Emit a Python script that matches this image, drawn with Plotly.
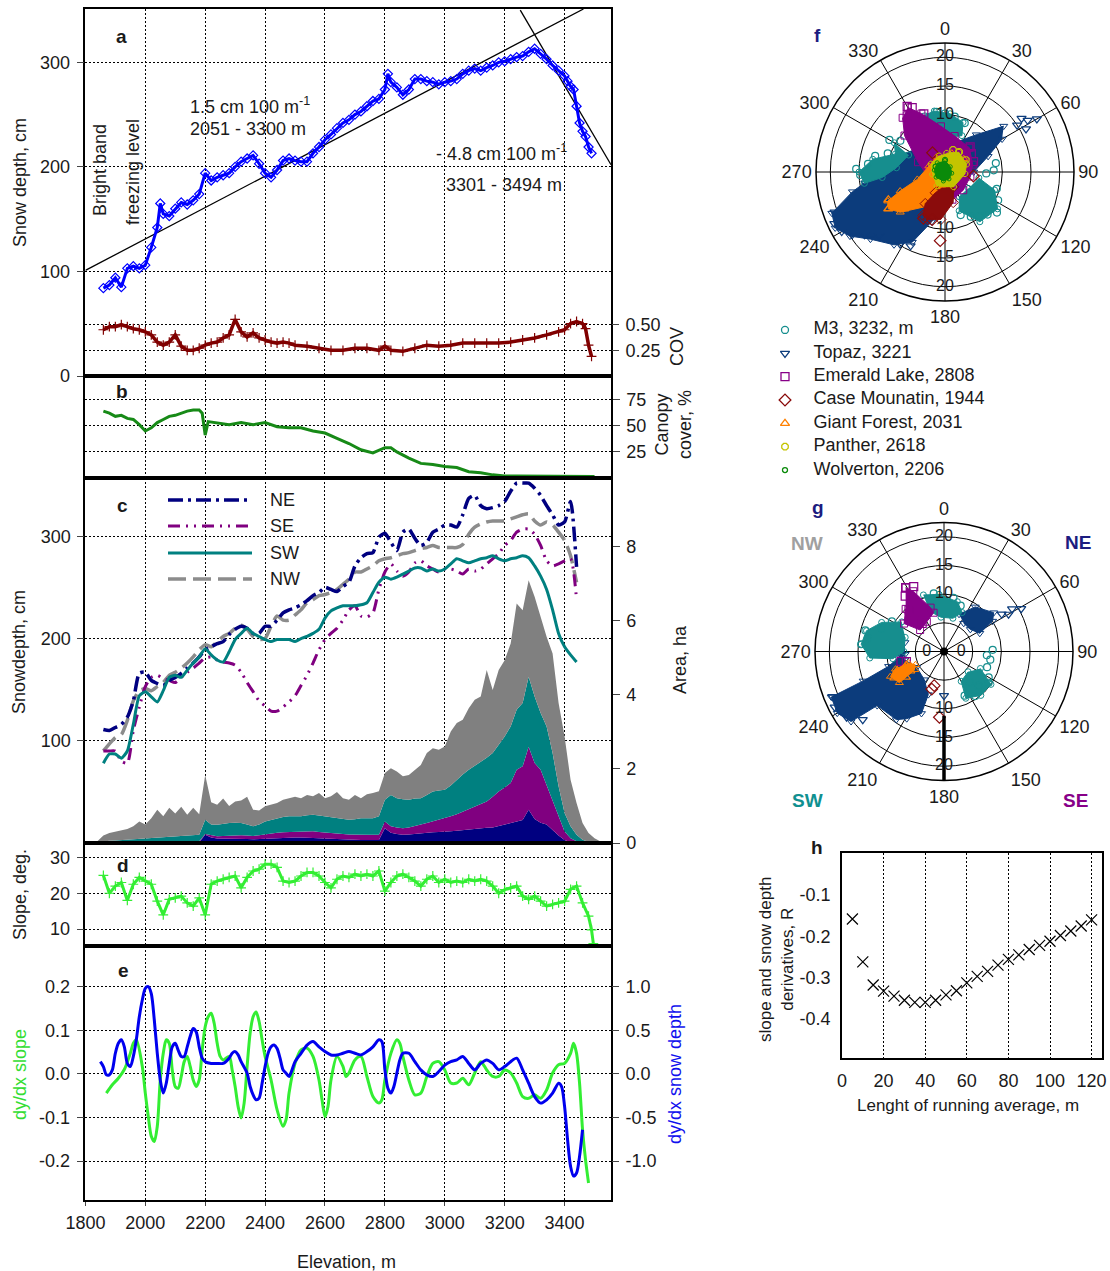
import plotly.graph_objects as go

W, H = 1110, 1271
FONT = "Liberation Sans, Arial, sans-serif"
INK = "#1a1a1a"


def px(x):
    return x / W


def py(y):
    return 1 - y / H


# ---------------- a: snow depth (cm) and its COV along the transect ----------------
snow_elev = [1860, 1880, 1900, 1920, 1940, 1960, 1980, 2000, 2020, 2040,
             2050,
             2060, 2080, 2100, 2120, 2140, 2160, 2180, 2200, 2220, 2240,
             2260, 2280, 2300, 2320, 2340, 2360, 2380, 2400, 2420, 2440,
             2460, 2480, 2500, 2520, 2540, 2560, 2580, 2600, 2620, 2640,
             2660, 2680, 2700, 2720, 2740, 2760, 2780, 2800,
             2810,
             2820, 2840, 2860, 2880, 2900, 2920, 2940, 2960, 2980, 3000,
             3020, 3040, 3060, 3080, 3100, 3120, 3140, 3160, 3180, 3200,
             3220, 3240, 3260, 3280, 3300, 3320, 3340, 3360, 3380, 3400,
             3410, 3420, 3430, 3440, 3450, 3460, 3470, 3480, 3490]
snow_depth = [84, 87, 94, 85, 103, 105, 103, 106, 123, 142,
              165,
              155, 153, 160, 166, 164, 168, 174, 194, 187, 190,
              192, 194, 200, 205, 208, 211, 203, 194, 190, 197,
              206, 208, 206, 205, 205, 213, 219, 226, 231, 237,
              242, 245, 250, 253, 258, 263, 265, 274,
              289,
              281, 276, 269, 274, 284, 284, 282, 281, 279, 281,
              282, 284, 289, 292, 294, 292, 295, 297, 300, 301,
              303, 305, 306, 310, 313, 308, 303, 297, 292, 287,
              282, 277, 274, 258, 242, 234, 229, 219, 213]

cov_elev = [1860, 1880, 1900, 1920, 1940, 1960, 1980, 2000, 2020, 2040,
            2060, 2080, 2100, 2120, 2140, 2160, 2180, 2200, 2220, 2240,
            2260, 2280, 2300, 2320, 2340, 2360, 2380, 2400, 2420, 2440,
            2460, 2480, 2500,
            2540, 2580, 2620, 2660, 2700, 2740, 2780,
            2800, 2820,
            2860, 2900, 2940, 2980, 3020, 3060, 3100, 3140, 3180, 3220,
            3260, 3300, 3340, 3380,
            3400, 3420, 3440, 3460, 3470, 3480, 3490]
cov_value = [0.45, 0.48, 0.48, 0.50, 0.48, 0.46, 0.45, 0.43, 0.40, 0.33,
             0.30, 0.33, 0.40, 0.29, 0.25, 0.25, 0.27, 0.30, 0.32, 0.33,
             0.37, 0.40, 0.55, 0.43, 0.38, 0.42, 0.37, 0.35, 0.33, 0.32,
             0.33, 0.32, 0.30,
             0.29, 0.27, 0.25, 0.25, 0.27, 0.27, 0.25,
             0.29, 0.25,
             0.24, 0.27, 0.30, 0.29, 0.30, 0.32, 0.32, 0.32, 0.32, 0.33,
             0.35, 0.37, 0.40, 0.43,
             0.45, 0.51, 0.53, 0.51, 0.46, 0.30, 0.19]

# fitted gradients (end points of each regression line)
fit_low_elev = [1800, 3463]
fit_low_depth = [101, 351]
fit_high_elev = [3252, 3555]
fit_high_depth = [350, 202]

# ---------------- b: canopy cover (%) ----------------
canopy_elev = [1860, 1880, 1900, 1920, 1940, 1960, 1980, 2000, 2020, 2040,
               2060, 2080, 2100, 2120, 2140, 2160, 2180,
               2190, 2200, 2210,
               2240, 2280, 2320, 2360, 2400, 2440, 2480, 2520, 2560, 2600,
               2640, 2680, 2720, 2760, 2800,
               2820, 2840,
               2880, 2920, 2960, 3000, 3040, 3080, 3120, 3160, 3200, 3240,
               3280, 3320, 3360, 3400, 3440, 3480,
               3500]
canopy_cover = [64, 62, 59, 60, 57, 56, 51, 45, 48, 53,
                56, 59, 60, 62, 64, 65, 65,
                62, 41, 54,
                53, 51, 53, 51, 53, 49, 48, 48, 45, 43,
                38, 33, 27, 24, 29,
                29, 25,
                19, 14, 13, 11, 10, 6, 5, 3, 2, 2,
                2, 2, 2, 2, 2, 1.5,
                1.5]

# ---------------- c: snow depth by aspect (cm) ----------------
aspect_elev = list(range(1860, 3460, 20))
depth_ne = [111, 110, 113, 116, 123, 139, 166, 167, 159, 156,
            154, 159, 162, 166, 171, 176, 182, 189, 192, 195,
            197, 204, 209, 212, 210, 205, 205, 212, 212, 218,
            225, 228, 230, 233, 237, 242, 245, 250, 248, 246,
            251, 255, 271, 279, 283, 284, 299, 303, 294, 286,
            304, 307, 298, 291, 294, 304, 307, 311, 311, 309,
            321, 337, 340, 330, 327, 328, 330, 334, 344, 352,
            352, 352, 347, 340, 330, 321, 311, 314, 334, 270]
depth_se = [90, 90, 90, 80, 78, 110, 133, 153, 162, 164,
            161, 159, 157, 162, 167, 171, 176, 181, 182, 179,
            177, 176, 174, 167, 157, 148, 139, 134, 129, 129,
            133, 138, 144, 154, 164, 176, 189, 199, 205, 210,
            218, 228, 232, 222, 221, 225, 248, 265, 273, 266,
            261, 265, 274, 276, 271, 268, 265, 268, 268, 266,
            263, 268, 266, 268, 273, 278, 283, 291, 296, 304,
            307, 307, 302, 291, 276, 271, 273, 276, 278, 238]
depth_sw = [78, 87, 87, 83, 90, 116, 144, 148, 143, 138,
            149, 162, 164, 162, 169, 176, 182, 190, 184, 179,
            177, 187, 199, 205, 210, 205, 202, 199, 197, 199,
            199, 199, 197, 200, 202, 205, 209, 220, 227, 230,
            232, 232, 232, 233, 235, 245, 255, 260, 258, 260,
            263, 266, 269, 269, 266, 268, 266, 268, 273, 278,
            276, 274, 276, 278, 279, 281, 278, 276, 278, 279,
            281, 279, 271, 261, 248, 228, 205, 192, 184, 177]
depth_nw = [90, 97, 103, 106, 120, 139, 149, 151, 149, 153,
            157, 164, 167, 171, 176, 182, 189, 194, 192, 197,
            202, 205, 210, 213, 209, 202, 199, 200, 212, 222,
            218, 218, 223, 228, 235, 238, 242, 243, 245, 248,
            253, 258, 265, 265, 268, 271, 276, 278, 279, 281,
            283, 284, 286, 288, 289, 291, 289, 289, 289, 289,
            292, 302, 309, 312, 314, 315, 315, 315, 317, 319,
            321, 322, 315, 311, 314, 311, 304, 296, 281, 255]

# area (ha) of each aspect class per elevation band
area_elev = list(range(1840, 3540, 20))
area_ne = [0, 0.01, 0.01, 0.01, 0.01, 0.01, 0.01, 0.01, 0.01, 0.01,
           0.01, 0.01, 0.01, 0.01, 0.02, 0.02, 0.02, 0.02, 0.22, 0.15,
           0.12, 0.12, 0.13, 0.12, 0.12, 0.11, 0.10, 0.11, 0.12, 0.13,
           0.14, 0.14, 0.15, 0.15, 0.15, 0.15, 0.14, 0.13, 0.12, 0.11,
           0.10, 0.09, 0.08, 0.08, 0.08, 0.08, 0.08, 0.08, 0.40, 0.28,
           0.24, 0.22, 0.23, 0.25, 0.26, 0.28, 0.29, 0.30, 0.32, 0.32,
           0.33, 0.35, 0.36, 0.38, 0.40, 0.41, 0.42, 0.46, 0.50, 0.55,
           0.58, 0.62, 0.90, 0.65, 0.55, 0.50, 0.35, 0.20, 0.08, 0.02,
           0, 0, 0, 0, 0]
area_se = [0.01, 0.01, 0.01, 0.01, 0.02, 0.02, 0.02, 0.02, 0.03, 0.03,
           0.03, 0.03, 0.03, 0.03, 0.03, 0.03, 0.03, 0.03, 0.02, 0.05,
           0.06, 0.07, 0.07, 0.08, 0.09, 0.09, 0.09, 0.10, 0.12, 0.13,
           0.14, 0.15, 0.15, 0.15, 0.16, 0.17, 0.18, 0.17, 0.16, 0.16,
           0.15, 0.15, 0.15, 0.14, 0.14, 0.14, 0.14, 0.14, 0.18, 0.17,
           0.18, 0.18, 0.19, 0.20, 0.24, 0.26, 0.29, 0.32, 0.34, 0.40,
           0.45, 0.50, 0.56, 0.61, 0.65, 0.71, 0.83, 0.93, 1.00, 1.07,
           1.40, 1.45, 1.70, 1.51, 1.43, 1.07, 0.82, 0.52, 0.23, 0.11,
           0.05, 0.02, 0, 0, 0]
area_sw = [0.01, 0.03, 0.04, 0.05, 0.05, 0.07, 0.08, 0.09, 0.09, 0.10,
           0.11, 0.12, 0.13, 0.14, 0.15, 0.16, 0.17, 0.17, 0.39, 0.30,
           0.31, 0.33, 0.34, 0.35, 0.33, 0.30, 0.26, 0.29, 0.34, 0.36,
           0.39, 0.41, 0.42, 0.42, 0.41, 0.43, 0.44, 0.44, 0.44, 0.43,
           0.42, 0.41, 0.40, 0.42, 0.45, 0.45, 0.45, 0.50, 0.59, 0.85,
           0.79, 0.78, 0.75, 0.75, 0.71, 0.76, 0.81, 0.80, 0.78, 0.83,
           0.93, 1.00, 1.06, 1.09, 1.15, 1.18, 1.18, 1.26, 1.38, 1.53,
           1.62, 1.71, 1.89, 1.80, 1.53, 1.58, 1.26, 0.81, 0.50, 0.32,
           0.17, 0.07, 0.03, 0, 0]
area_nw = [0.03, 0.15, 0.21, 0.24, 0.28, 0.28, 0.34, 0.46, 0.37, 0.53,
           0.75, 0.56, 0.78, 0.62, 0.78, 0.55, 0.73, 0.56, 1.21, 0.60,
           0.54, 0.68, 0.46, 0.57, 0.61, 0.75, 0.45, 0.38, 0.41, 0.41,
           0.41, 0.47, 0.48, 0.53, 0.49, 0.55, 0.50, 0.61, 0.49, 0.56,
           0.71, 0.56, 0.54, 0.66, 0.54, 0.65, 0.68, 0.68, 0.72, 0.72,
           0.72, 0.62, 0.67, 0.78, 0.90, 1.13, 1.17, 1.10, 1.17, 1.46,
           1.53, 1.48, 1.66, 1.79, 1.76, 2.37, 1.70, 2.02, 2.06, 2.24,
           2.87, 2.51, 2.61, 2.69, 2.60, 2.42, 2.69, 2.25, 2.07, 1.26,
           0.86, 0.45, 0.24, 0.13, 0.04]

# ---------------- d: terrain slope (deg) ----------------
slope_elev = list(range(1860, 3500, 20)) + [3490, 3496]
slope_deg = [25, 20, 22, 23, 18, 22.5, 24.4, 23.4, 22.5, 17.8,
             14, 18.3, 18.7, 19.2, 17.3, 16.4, 18.7, 14, 22.5, 23.4,
             23.9, 24.4, 24.8, 21.5, 24.4, 26.2, 26.7, 28.1, 28.1, 27.2,
             23.4, 23, 23.4, 24.8, 25.8, 25.8, 24.8, 23, 21.5, 23.9,
             24.8, 24.4, 25.3, 24.8, 25.3, 24.8, 26.2, 20.6, 23, 24.8,
             25.3, 24.4, 23.4, 22, 23.9, 24.8, 23, 23.9, 23, 23.4,
             23, 23.9, 23.4, 23.9, 23.4, 22, 20, 21, 21.5, 22,
             19.2, 18.3, 19.2, 17.8, 16.4, 16.9, 17.3, 17.8, 21.1, 22,
             17.3, 13.6,
             9.8, 6]

# ---------------- e: derivatives of smoothed slope and snow depth ----------------
dslope_pts = [(1870, -0.044), (1890, -0.025), (1910, -0.01), (1930, 0.01), (1950, 0.047),
              (1960, 0.07), (1970, 0.078), (1990, 0.017), (2000, -0.044), (2010, -0.098),
              (2020, -0.143), (2030, -0.155), (2040, -0.12), (2050, -0.014), (2060, 0.047),
              (2070, 0.078), (2080, 0.07), (2090, 0.009), (2100, -0.029), (2110, -0.033),
              (2120, -0.006), (2130, 0.028), (2140, 0.04), (2150, 0.017), (2160, -0.014),
              (2170, -0.029), (2180, -0.014), (2190, 0.055), (2200, 0.108), (2210, 0.131),
              (2220, 0.139), (2230, 0.116), (2240, 0.07), (2250, 0.04), (2260, 0.032),
              (2280, 0.04), (2290, 0.009), (2300, -0.029), (2310, -0.075), (2320, -0.101),
              (2330, -0.067), (2340, 0.017), (2350, 0.093), (2360, 0.131), (2370, 0.142),
              (2380, 0.12), (2390, 0.078), (2400, 0.04), (2420, -0.014), (2440, -0.082),
              (2460, -0.12), (2470, -0.105), (2480, -0.044), (2500, 0.024), (2520, 0.055),
              (2540, 0.059), (2560, 0.04), (2580, -0.014), (2590, -0.059), (2600, -0.098),
              (2610, -0.075), (2620, -0.014), (2640, 0.04), (2660, 0.017), (2670, -0.006),
              (2680, 0.002), (2700, 0.032), (2720, 0.04), (2740, -0.006), (2760, -0.052),
              (2780, -0.067), (2790, -0.059), (2800, -0.014), (2820, 0.047), (2840, 0.078),
              (2850, 0.07), (2860, 0.04), (2880, -0.014), (2900, -0.048), (2920, -0.044),
              (2940, -0.006), (2960, 0.024), (2980, 0.028), (3000, 0.009), (3020, -0.021),
              (3040, -0.021), (3060, -0.01), (3080, -0.025), (3100, 0.002), (3120, 0.028),
              (3140, 0.009), (3160, -0.006), (3180, -0.006), (3200, 0.009), (3220, 0.002),
              (3240, -0.021), (3260, -0.052), (3280, -0.056), (3300, -0.048), (3320, -0.056),
              (3340, -0.037), (3360, 0.002), (3380, 0.021), (3400, 0.024), (3420, 0.047),
              (3430, 0.07), (3440, 0.047), (3450, -0.021), (3460, -0.128), (3470, -0.197),
              (3480, -0.25)]
dsnow_pts = [(1850, 0.14), (1860, 0.084), (1870, -0.011), (1880, -0.011), (1890, 0.046),
             (1900, 0.236), (1910, 0.35), (1920, 0.39), (1930, 0.31), (1940, 0.12),
             (1950, 0.084), (1960, 0.2), (1970, 0.39), (1980, 0.655), (1990, 0.846),
             (2000, 0.98), (2010, 1.0), (2020, 0.92), (2030, 0.62), (2040, 0.236),
             (2050, -0.07), (2060, -0.22), (2070, -0.107), (2080, 0.12), (2090, 0.31),
             (2100, 0.35), (2110, 0.27), (2120, 0.2), (2130, 0.2), (2140, 0.31),
             (2150, 0.43), (2160, 0.52), (2170, 0.48), (2180, 0.31), (2190, 0.18),
             (2200, 0.14), (2220, 0.12), (2240, 0.12), (2260, 0.12), (2280, 0.18),
             (2290, 0.236), (2300, 0.255), (2310, 0.217), (2320, 0.14), (2340, 0.008),
             (2350, -0.145), (2360, -0.24), (2370, -0.297), (2380, -0.278), (2390, -0.107),
             (2400, 0.084), (2410, 0.236), (2420, 0.31), (2430, 0.33), (2440, 0.29),
             (2450, 0.18), (2460, 0.046), (2470, 0.008), (2480, -0.03), (2490, 0.046),
             (2500, 0.14), (2520, 0.236), (2540, 0.33), (2560, 0.37), (2580, 0.31),
             (2600, 0.255), (2620, 0.217), (2640, 0.217), (2660, 0.236), (2680, 0.255),
             (2700, 0.236), (2720, 0.217), (2740, 0.255), (2760, 0.31), (2780, 0.39),
             (2790, 0.37), (2800, 0.046), (2810, -0.164), (2820, -0.22), (2830, -0.145),
             (2840, 0.008), (2850, 0.16), (2860, 0.236), (2880, 0.236), (2900, 0.14),
             (2920, 0.046), (2940, -0.011), (2960, -0.03), (2980, 0.027), (3000, 0.1),
             (3020, 0.14), (3040, 0.16), (3060, 0.2), (3080, 0.12), (3100, 0.046),
             (3120, 0.12), (3140, 0.16), (3160, 0.12), (3180, 0.046), (3200, 0.084),
             (3220, 0.14), (3240, 0.18), (3260, 0.046), (3280, -0.107), (3300, -0.26),
             (3320, -0.335), (3340, -0.297), (3360, -0.22), (3380, -0.107), (3390, -0.145),
             (3400, -0.373), (3410, -0.754), (3420, -1.06), (3430, -1.17), (3440, -1.135),
             (3450, -0.945), (3460, -0.64)]

# ---------------- h: correlation vs running-average length ----------------
run_length = [5, 10, 15, 20, 25, 30, 35, 40, 45, 50, 55, 60,
              65, 70, 75, 80, 85, 90, 95, 100, 105, 110, 115, 120]
corr_r = [-0.158, -0.262, -0.318, -0.333, -0.345, -0.355, -0.36, -0.36, -0.355, -0.342, -0.332, -0.313,
          -0.297, -0.285, -0.27, -0.256, -0.245, -0.232, -0.222, -0.212, -0.198, -0.187, -0.175, -0.16]

# ---------------- f, g: aspect (deg) / slope (deg) footprints of the stations ----------------
STATIONS = [
    ("M3, 3232, m", "#168e8e", "circle-open", 7),
    ("Topaz, 3221", "#0c3c7c", "triangle-down-open", 8),
    ("Emerald Lake, 2808", "#880088", "square-open", 8),
    ("Case Mounatin, 1944", "#8a0c0c", "diamond-open", 9),
    ("Giant Forest, 2031", "#ff8000", "triangle-up-open", 8),
    ("Panther, 2618", "#c4c400", "octagon-open", 7),
    ("Wolverton, 2206", "#0a8a0a", "circle-open", 5),
]

# each station: list of outlined clusters, plus loose points
f_clouds = {
    "Topaz, 3221": ([[(52, 13.0), (40, 8.5), (20, 5.5), (350, 5.0), (315, 6.0), (290, 8.5), (268, 12.0),
                      (258, 16.5), (250, 21.0), (243, 21.5), (236, 20.0), (228, 17.5), (215, 15.5),
                      (205, 13.5), (195, 9.0), (175, 5.0), (140, 3.5), (90, 5.0), (70, 8.0), (60, 11.5)]],
                    [(57, 15.0), (58, 17.0), (60, 18.5), (55, 16.3), (62, 16.0), (245, 21.3), (240, 20.8),
                     (250, 20.5), (236, 19.5), (232, 17.8), (212, 14.8), (205, 14.2), (226, 16.0),
                     (262, 14.0), (270, 11.0), (280, 9.5)]),
    "M3, 3232, m": ([[(335, 10.5), (350, 10.8), (5, 10.2), (20, 9.2), (25, 7.0), (10, 6.2), (345, 6.5), (330, 8.0)],
                     [(300, 10.2), (290, 9.2), (280, 12.8), (270, 15.0), (262, 14.2), (265, 11.0), (275, 8.5), (295, 7.0)],
                     [(100, 6.0), (110, 9.2), (125, 11.2), (145, 10.6), (160, 7.2), (150, 5.0), (125, 5.0)]],
                    [(268, 14.8), (272, 15.5), (276, 13.5), (283, 12.5), (288, 10.5), (300, 11.2), (305, 9.5),
                     (340, 10.3), (352, 10.6), (0, 10.2), (10, 9.8), (22, 9.2), (88, 8.5), (92, 7.2), (80, 9.0),
                     (108, 9.5), (118, 10.5), (128, 11.5), (135, 10.5), (142, 9.8), (150, 9.0), (160, 8.0)]),
    "Emerald Lake, 2808": ([[(330, 13.0), (338, 11.0), (355, 8.0), (15, 6.5), (45, 6.0), (75, 5.0), (100, 4.5),
                             (135, 4.5), (165, 5.0), (200, 3.5), (250, 3.0), (290, 5.0), (312, 9.5), (322, 12.0)]],
                           [(330, 13.2), (326, 11.8), (333, 12.6), (45, 6.2), (55, 5.6), (70, 5.3), (340, 10.8)]),
    "Giant Forest, 2031": ([[(55, 4.0), (100, 2.5), (160, 3.0), (205, 6.5), (228, 10.5), (237, 11.8), (243, 11.2),
                             (247, 8.5), (255, 5.0), (290, 3.0), (330, 3.0), (20, 3.5)]],
                           [(237, 11.8), (240, 10.6), (232, 10.0), (228, 9.6), (244, 11.0)]),
    "Case Mounatin, 1944": ([[(150, 3.0), (165, 5.5), (185, 8.3), (200, 8.8), (207, 8.5), (212, 6.5), (205, 4.0), (190, 2.8)]],
                            [(184, 12.0), (327, 4.0), (98, 5.0), (195, 8.6), (205, 8.9)]),
    "Panther, 2618": ([[(5, 3.3), (35, 4.2), (70, 4.0), (95, 3.5), (150, 3.0), (210, 2.8), (260, 2.2), (300, 2.8), (340, 3.0)]],
                      [(35, 4.3), (20, 4.1), (60, 4.2)]),
    "Wolverton, 2206": ([[(0, 2.0), (45, 1.3), (100, 1.2), (150, 1.4), (190, 1.6), (240, 1.8), (280, 1.9), (320, 2.1)]],
                        [(0, 2.1), (300, 1.9)]),
}
g_clouds = {
    "Topaz, 3221": ([[(22, 7.0), (35, 9.5), (52, 11.0), (58, 10.0), (63, 7.0), (50, 6.0), (35, 6.0)],
                     [(265, 7.5), (255, 10.0), (250, 15.0), (248, 21.2), (240, 21.5), (233, 20.3), (231, 15.0),
                      (215, 14.5), (209, 13.4), (200, 11.5), (200, 8.0), (215, 6.0), (240, 5.5), (258, 7.0)],
                     [(283, 7.0), (282, 8.2), (270, 8.0), (262, 7.5), (266, 6.8)]],
                    [(60, 13.0), (61, 15.4), (58, 14.0), (57, 12.0), (248, 21.0), (243, 21.4), (236, 20.5),
                     (230, 18.5), (180, 7.7)]),
    "M3, 3232, m": ([[(340, 10.5), (355, 10.0), (15, 9.0), (25, 7.5), (15, 6.0), (355, 6.0), (340, 7.5)],
                     [(305, 9.0), (295, 12.0), (285, 14.0), (275, 14.5), (265, 13.0), (262, 9.0), (270, 7.0), (290, 7.2)],
                     [(115, 7.0), (125, 10.0), (140, 10.0), (155, 9.0), (150, 6.0), (130, 5.5)]],
                    [(110, 8.0), (120, 9.0), (125, 9.5), (135, 8.5), (140, 7.0), (145, 9.5), (155, 8.5), (100, 8.2),
                     (95, 7.5), (88, 8.5), (275, 14.5), (280, 13.5), (285, 14.2), (290, 11.5), (300, 10.5),
                     (10, 9.5), (20, 8.5), (350, 10.3)]),
    "Emerald Lake, 2808": ([[(329, 13.0), (333, 11.8), (343, 8.0), (345, 7.0), (330, 6.0), (312, 5.6), (305, 8.5), (318, 10.0)]],
                           [(329, 13.0), (325, 11.8), (335, 12.5), (320, 9.5), (318, 7.5), (322, 6.2), (257, 7.7), (255, 6.8)]),
    "Giant Forest, 2031": ([[(238, 6.0), (235, 9.5), (245, 10.3), (250, 9.0), (252, 6.5), (245, 5.5)]],
                           [(242, 9.8), (248, 8.8), (236, 8.0), (250, 7.0), (240, 6.8)]),
    "Case Mounatin, 1944": ([], [(198, 6.9), (196, 6.2), (184, 11.5)]),
}
draw_order = ["Topaz, 3221", "M3, 3232, m", "Emerald Lake, 2808", "Giant Forest, 2031",
              "Case Mounatin, 1944", "Panther, 2618", "Wolverton, 2206"]

# radial labels of the polar panels
f_rlabels = [(0, 20), (0, 15), (0, 10), (180, 10), (180, 15), (180, 20)]
g_rlabels = [(0, 20), (0, 15), (0, 10), (180, 10), (180, 15), (180, 20), (90, 3), (270, 3)]
g_rtext = ["20", "15", "10", "10", "15", "20", "0", "0"]
g_south_bar_r = [11.2, 22.5]

# ---------------- figure ----------------
fig = go.Figure()
style = {s[0]: s for s in STATIONS}
noleg = dict(showlegend=False, hoverinfo="skip")

# a
fig.add_trace(go.Scatter(x=fit_low_elev, y=fit_low_depth, xaxis="x", yaxis="y", mode="lines",
                         line=dict(color="black", width=1.3), **noleg))
fig.add_trace(go.Scatter(x=fit_high_elev, y=fit_high_depth, xaxis="x", yaxis="y", mode="lines",
                         line=dict(color="black", width=1.3), **noleg))
fig.add_trace(go.Scatter(x=snow_elev, y=snow_depth, xaxis="x", yaxis="y", mode="lines+markers",
                         line=dict(color="#0000ff", width=3),
                         marker=dict(symbol="diamond-open", size=7, color="#0000ff", line=dict(width=1.2)), **noleg))
fig.add_trace(go.Scatter(x=cov_elev, y=cov_value, xaxis="x", yaxis="y2", mode="lines+markers",
                         line=dict(color="#800000", width=3.5),
                         marker=dict(symbol="cross-thin-open", size=7, color="#800000", line=dict(width=1.2)), **noleg))
# b
fig.add_trace(go.Scatter(x=canopy_elev, y=canopy_cover, xaxis="x2", yaxis="y3", mode="lines",
                         line=dict(color="#178a17", width=3), **noleg))
# c: area stack (right axis) under aspect snow-depth lines (left axis)
for vals, col in [(area_ne, "#000080"), (area_se, "#800080"), (area_sw, "#008080"), (area_nw, "#808080")]:
    fig.add_trace(go.Scatter(x=area_elev, y=vals, xaxis="x3", yaxis="y4", mode="lines", stackgroup="area",
                             line=dict(width=0, color=col), fillcolor=col, **noleg))
aspect_lines = [
    (depth_nw, "#8c8c8c", "18px,7px", 3.5),
    (depth_se, "#800080", "12px,6px,2px,6px,2px,6px", 3),
    (depth_ne, "#000080", "15px,5px,3px,5px", 3.5),
    (depth_sw, "#008080", "solid", 3),
]
for vals, col, dash, wdt in aspect_lines:
    fig.add_trace(go.Scatter(x=aspect_elev, y=vals, xaxis="x3", yaxis="y5", mode="lines",
                             line=dict(color=col, width=wdt, dash=dash, shape="spline", smoothing=0.6), **noleg))
# d
fig.add_trace(go.Scatter(x=slope_elev, y=slope_deg, xaxis="x4", yaxis="y6", mode="lines+markers",
                         line=dict(color="#33ee33", width=3),
                         marker=dict(symbol="cross-thin-open", size=7, color="#33ee33", line=dict(width=1.2)), **noleg))
# e
fig.add_trace(go.Scatter(x=[p[0] for p in dslope_pts], y=[p[1] for p in dslope_pts], xaxis="x5", yaxis="y7",
                         mode="lines", line=dict(color="#33ee33", width=3, shape="spline", smoothing=0.8), **noleg))
fig.add_trace(go.Scatter(x=[p[0] for p in dsnow_pts], y=[p[1] for p in dsnow_pts], xaxis="x5", yaxis="y8",
                         mode="lines", line=dict(color="#0000ee", width=3, shape="spline", smoothing=0.8), **noleg))
# h
fig.add_trace(go.Scatter(x=run_length, y=corr_r, xaxis="x6", yaxis="y9", mode="markers",
                         marker=dict(symbol="x-thin", size=11, color="black", line=dict(width=1.2, color="black")),
                         **noleg))


# f / g polar clouds
def add_clouds(clouds, subplot):
    for name in draw_order:
        if name not in clouds:
            continue
        _, col, sym, size = style[name]
        outlines, loose = clouds[name]
        for poly in outlines:
            fig.add_trace(go.Scatterpolar(theta=[p[0] for p in poly], r=[p[1] for p in poly], subplot=subplot,
                                          mode="lines+markers", fill="toself", fillcolor=col,
                                          line=dict(color=col, width=1),
                                          marker=dict(symbol=sym, size=size - 1, color=col, line=dict(width=1)),
                                          **noleg))
        if loose:
            fig.add_trace(go.Scatterpolar(theta=[p[0] for p in loose], r=[p[1] for p in loose], subplot=subplot,
                                          mode="markers",
                                          marker=dict(symbol=sym, size=size, color=col, line=dict(width=1.2)),
                                          **noleg))


add_clouds(f_clouds, "polar")
add_clouds(g_clouds, "polar2")
fig.add_trace(go.Scatterpolar(theta=[180, 180], r=g_south_bar_r, subplot="polar2", mode="lines",
                              line=dict(color="black", width=3.5), **noleg))
fig.add_trace(go.Scatterpolar(theta=[0], r=[0], subplot="polar2", mode="markers",
                              marker=dict(color="black", size=8), **noleg))
fig.add_trace(go.Scatterpolar(theta=[p[0] for p in f_rlabels], r=[p[1] for p in f_rlabels], subplot="polar",
                              mode="text", text=[str(p[1]) for p in f_rlabels],
                              textfont=dict(size=16, color=INK), **noleg))
fig.add_trace(go.Scatterpolar(theta=[p[0] for p in g_rlabels], r=[p[1] for p in g_rlabels], subplot="polar2",
                              mode="text", text=g_rtext, textfont=dict(size=16, color=INK), **noleg))

# station key (markers on a hidden axis pair, names beside them)
for i, (name, col, sym, size) in enumerate(STATIONS):
    fig.add_trace(go.Scatter(x=[0], y=[i], xaxis="x7", yaxis="y10", mode="markers",
                             marker=dict(symbol=sym, size=size, color=col, line=dict(width=1.3)), **noleg))
fig.add_trace(go.Scatter(x=[0.95] * len(STATIONS), y=list(range(len(STATIONS))), xaxis="x7", yaxis="y10",
                         mode="text", text=[s[0] for s in STATIONS], textposition="middle right",
                         textfont=dict(size=18, color=INK), **noleg))

# ---------------- layout ----------------
XD = [px(85.4), px(611)]
TF = dict(size=18, color=INK, family=FONT)
GRID = dict(showgrid=True, gridcolor="black", griddash="2px,2px", gridwidth=1)
FRAME = dict(showline=True, linecolor="black", linewidth=1.5, mirror=True, zeroline=False, automargin=False)
TICK = dict(ticks="outside", ticklen=7, ticklabelstandoff=3, tickfont=TF)
xcommon = dict(range=[1800, 3555], tick0=1800, dtick=200, showticklabels=False, ticks="", domain=XD,
               tickfont=TF, **GRID, **FRAME)


def ydom(top, bottom):
    return [py(bottom), py(top)]


layout = dict(
    template="none",
    width=W, height=H, margin=dict(l=0, r=0, t=0, b=0, autoexpand=False),
    paper_bgcolor="white", plot_bgcolor="white",
    font=dict(family=FONT, size=18, color=INK),
    showlegend=False,
    xaxis=dict(anchor="y", **xcommon),
    yaxis=dict(domain=ydom(9, 376), anchor="x", range=[0, 351], tickvals=[0, 100, 200, 300],
               **TICK, **GRID, **FRAME),
    yaxis2=dict(overlaying="y", anchor="x", side="right", range=[0, 3.57], tickvals=[0.25, 0.5],
                ticktext=["0.25", "0.50"], **TICK,
                showline=False, zeroline=False, automargin=False, **GRID),
    xaxis2=dict(anchor="y3", **xcommon),
    yaxis3=dict(domain=ydom(376, 478), anchor="x2", side="right", range=[0, 97.6], tickvals=[25, 50, 75],
                **TICK, **GRID, **FRAME),
    xaxis3=dict(anchor="y4", **xcommon),
    yaxis4=dict(domain=ydom(478, 843), anchor="x3", side="right", range=[0, 9.86], tickvals=[0, 2, 4, 6, 8],
                **TICK, showgrid=False, **FRAME),
    yaxis5=dict(overlaying="y4", anchor="x3", side="left", range=[0, 357], tickvals=[100, 200, 300],
                **TICK, showline=False, zeroline=False, automargin=False, **GRID),
    xaxis4=dict(anchor="y6", **xcommon),
    yaxis6=dict(domain=ydom(843, 946), anchor="x4", range=[5.3, 34], tickvals=[10, 20, 30],
                **TICK, **GRID, **FRAME),
    xaxis5=dict(anchor="y7", **{**xcommon, "showticklabels": True, "ticks": "outside", "ticklen": 4,
                                "tickvals": list(range(1800, 3600, 200)), "ticklabelstandoff": 2}),
    yaxis7=dict(domain=ydom(946, 1200), anchor="x5", range=[-0.289, 0.293],
                tickvals=[-0.2, -0.1, 0, 0.1, 0.2], ticktext=["-0.2", "-0.1", "0.0", "0.1", "0.2"],
                **TICK, **GRID, **FRAME),
    yaxis8=dict(overlaying="y7", anchor="x5", side="right", range=[-1.445, 1.465],
                tickvals=[-1, -0.5, 0, 0.5, 1], ticktext=["-1.0", "-0.5", "0.0", "0.5", "1.0"],
                **TICK, showgrid=False, showline=False, zeroline=False, automargin=False),
    xaxis6=dict(domain=[px(842), px(1102)], anchor="y9", range=[0, 125], tickvals=list(range(0, 140, 20)),
                ticks="", ticklabelstandoff=6, tickfont=TF, **GRID, **FRAME),
    yaxis9=dict(domain=ydom(853, 1058), anchor="x6", range=[-0.495, 0.002],
                tickvals=[-0.4, -0.3, -0.2, -0.1], ticktext=["-0.4", "-0.3", "-0.2", "-0.1"],
                ticks="", ticklabelstandoff=6, tickfont=TF, showgrid=False, **FRAME),
    xaxis7=dict(domain=[px(770), px(1100)], anchor="y10", range=[-0.5, 10.5], visible=False, fixedrange=True,
                automargin=False),
    yaxis10=dict(domain=ydom(318.3, 481.7), anchor="x7", range=[6.5, -0.5], visible=False, fixedrange=True,
                 automargin=False),
)

polar_common = dict(
    bgcolor="white",
    angularaxis=dict(direction="clockwise", rotation=90, tickvals=list(range(0, 360, 30)),
                     showline=True, linecolor="black", linewidth=1.5, showgrid=True, gridcolor="black",
                     gridwidth=1, ticks="", tickfont=TF),
)
layout["polar"] = dict(domain=dict(x=[px(816), px(1074)], y=ydom(43, 301)), **polar_common,
                       radialaxis=dict(range=[0, 22.5], tickvals=[10, 15, 20], showticklabels=False,
                                       showline=False, ticks="", gridcolor="black", gridwidth=1))
layout["polar2"] = dict(domain=dict(x=[px(815), px(1073)], y=ydom(522.5, 780.5)), **polar_common,
                        radialaxis=dict(range=[0, 22.5], tickvals=[5, 10, 15, 20], showticklabels=False,
                                        showline=False, ticks="", gridcolor="black", gridwidth=1))
fig.update_layout(**layout)


def ann(text, x, y, size=18, color=INK, angle=0, bold=False, xanchor="center"):
    if bold:
        text = "<b>" + text + "</b>"
    fig.add_annotation(text=text, x=px(x), y=py(y), xref="paper", yref="paper", showarrow=False,
                       xanchor=xanchor, yanchor="middle", textangle=angle,
                       font=dict(size=size, color=color, family=FONT))


# panel letters
for letter, x, y, col in [("a", 121, 37, INK), ("b", 122, 392, INK), ("c", 122, 505, INK),
                          ("d", 123, 865, INK), ("e", 123, 970, INK), ("f", 817, 35, "#1c1c80"),
                          ("g", 818, 508, "#1c1c80"), ("h", 817, 847, INK)]:
    ann(letter, x, y, size=19, color=col, bold=True)

# aspect quadrant names around g
for txt, x, y, col in [("NW", 807, 543, "#a0a0a0"), ("NE", 1078, 542, "#1c1c80"),
                       ("SW", 807, 800, "#109090"), ("SE", 1075, 800, "#880088")]:
    ann(txt, x, y, size=19, color=col, bold=True)

# a: notes
ann("Bright band", 100, 170, angle=-90)
ann("freezing level", 133, 172, angle=-90)
ann("1.5 cm 100 m<sup>-1</sup>", 188, 106, xanchor="left")
ann("2051 - 3300 m", 188, 129, xanchor="left")
ann("- 4.8 cm 100 m<sup>-1</sup>", 434, 153, xanchor="left")
ann("3301 - 3494 m", 444, 185, xanchor="left")

# axis titles
ann("Snow depth, cm", 20, 183, angle=-90)
ann("COV", 677, 347, angle=-90)
ann("Canopy<br>cover, %", 673, 425, angle=-90)
ann("Snowdepth, cm", 19, 652, angle=-90)
ann("Area, ha", 680, 660, angle=-90)
ann("Slope, deg.", 20, 895, angle=-90)
ann("dy/dx slope", 20, 1075, angle=-90, color="#33dd33")
ann("dy/dx snow depth", 675, 1074, angle=-90, color="#1010ee")
ann("Elevation, m", 346, 1262)
ann("slope and snow depth<br>derivatives, R", 776, 960, angle=-90, size=17)
ann("Lenght of running average, m", 968, 1105, size=17)

# c: line key
key_rows = [("NE", 500, "#000080", "15px,5px,3px,5px", 3.5),
            ("SE", 526, "#800080", "12px,6px,2px,6px,2px,6px", 3),
            ("SW", 553, "#008080", "solid", 3),
            ("NW", 579, "#8c8c8c", "18px,7px", 3.5)]
for label, y, col, dash, wdt in key_rows:
    fig.add_shape(type="line", xref="paper", yref="paper", x0=px(168), x1=px(252), y0=py(y), y1=py(y),
                  line=dict(color=col, width=wdt, dash=dash))
    ann(label, 268, y, xanchor="left")

fig.write_html("out.html")
